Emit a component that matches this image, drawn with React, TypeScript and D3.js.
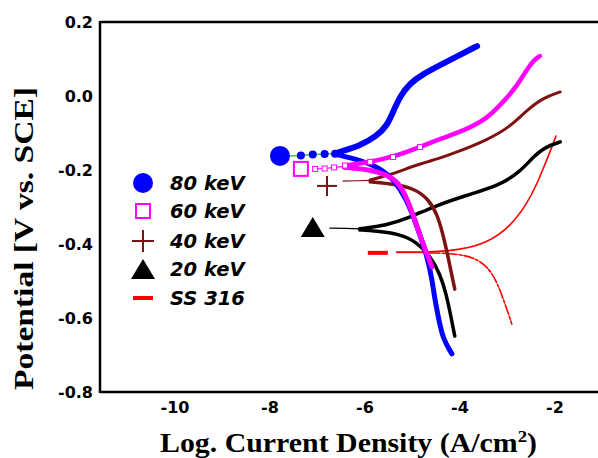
import React from "react";
import * as d3 from "d3";

type Pt = [number, number];

// log current density (x) vs potential (y)
const xTicks = [-10, -8, -6, -4, -2];
const yTicks = [0.2, 0.0, -0.2, -0.4, -0.6, -0.8];

const legendLabels = ["80 keV", "60 keV", "40 keV", "20 keV", "SS 316"];

// start markers for each curve
const markers80: Pt = [-7.79, -0.162];
const markers60: Pt = [-7.35, -0.197];
const markers40: Pt = [-6.8, -0.243];
const markers20: Pt = [-7.1, -0.354];
const markersSS: Pt = [-5.73, -0.424];

const lead80: Pt[] = [[-7.6, -0.162], [-7.35, -0.161], [-7.1, -0.158], [-6.85, -0.157], [-6.63, -0.156]];
const anodic80: Pt[] = [
  [-6.63, -0.156], [-6.53, -0.151], [-6.11, -0.135], [-5.75, -0.108], [-5.54, -0.081], [-5.41, -0.043],
  [-5.26, 0.0], [-5.05, 0.035], [-4.78, 0.059], [-4.42, 0.084], [-4.0, 0.111], [-3.64, 0.135],
];
const cathodic80: Pt[] = [
  [-6.63, -0.157], [-6.11, -0.173], [-5.68, -0.195], [-5.41, -0.224], [-5.12, -0.278], [-4.91, -0.351],
  [-4.69, -0.432], [-4.59, -0.495], [-4.53, -0.549], [-4.46, -0.595], [-4.36, -0.657], [-4.17, -0.697],
];

const lead60: Pt[] = [[-7.05, -0.197], [-6.85, -0.196], [-6.65, -0.193], [-6.42, -0.19]];
const anodic60: Pt[] = [
  [-6.42, -0.188], [-5.89, -0.178], [-5.41, -0.165], [-4.84, -0.138], [-4.42, -0.116], [-3.94, -0.095],
  [-3.43, -0.062], [-3.09, -0.016], [-2.8, 0.027], [-2.59, 0.073], [-2.42, 0.1], [-2.32, 0.108],
];
const cathodic60: Pt[] = [
  [-6.42, -0.193], [-5.83, -0.2], [-5.41, -0.219], [-5.2, -0.251], [-4.99, -0.319], [-4.82, -0.386],
  [-4.67, -0.435], [-4.59, -0.462],
];

const lead40: Pt[] = [[-6.46, -0.23], [-6.2, -0.229], [-5.89, -0.228]];
const anodic40: Pt[] = [
  [-5.89, -0.227], [-5.41, -0.211], [-4.99, -0.189], [-4.42, -0.168], [-4.11, -0.154], [-3.43, -0.119],
  [-2.95, -0.084], [-2.59, -0.038], [-2.25, -0.005], [-1.89, 0.011],
];
const cathodic40: Pt[] = [
  [-5.89, -0.232], [-5.37, -0.238], [-4.95, -0.251], [-4.67, -0.278], [-4.48, -0.319], [-4.36, -0.373],
  [-4.25, -0.435], [-4.17, -0.486], [-4.11, -0.522],
];

const lead20: Pt[] = [[-6.74, -0.357], [-6.4, -0.358], [-6.11, -0.359]];
const anodic20: Pt[] = [
  [-6.11, -0.359], [-5.54, -0.349], [-5.12, -0.332], [-4.53, -0.297], [-3.85, -0.268], [-3.16, -0.241],
  [-2.74, -0.205], [-2.46, -0.165], [-2.21, -0.138], [-1.89, -0.124],
];
const cathodic20: Pt[] = [
  [-6.11, -0.362], [-5.79, -0.365], [-5.26, -0.373], [-4.91, -0.395], [-4.63, -0.432], [-4.42, -0.481],
  [-4.29, -0.535], [-4.19, -0.597], [-4.11, -0.649],
];

const anodicSS: Pt[] = [
  [-5.33, -0.422], [-4.63, -0.422], [-4.0, -0.416], [-3.43, -0.397], [-2.95, -0.354], [-2.59, -0.292],
  [-2.36, -0.232], [-2.19, -0.178], [-2.08, -0.143], [-1.98, -0.108],
];
const cathodicSS: Pt[] = [
  [-4.63, -0.424], [-3.85, -0.427], [-3.43, -0.457], [-3.22, -0.503], [-3.09, -0.549], [-2.99, -0.584],
  [-2.91, -0.616],
];

const BLUE = "#0000ff";
const PINK = "#ff00ff";
const BROWN = "#7d1212";
const BLACK = "#000000";
const RED = "#ff0000";

const W = 598;
const H = 458;

export default function App() {
  const x = d3.scaleLinear().domain([-10, -2]).range([175, 555]);
  const y = d3.scaleLinear().domain([0.2, -0.8]).range([22, 392]);
  const line = d3
    .line<Pt>()
    .x((d) => x(d[0]))
    .y((d) => y(d[1]))
    .curve(d3.curveBasis);
  const straight = d3
    .line<Pt>()
    .x((d) => x(d[0]))
    .y((d) => y(d[1]));

  const left = x.range()[0] - 75; // plot frame left edge

  const legendY = [183, 211, 241, 269, 298];
  const lx = 143;

  return (
    <svg
      width={W}
      height={H}
      style={{ position: "absolute", left: 0, top: 0, background: "#fff" }}
    >
      {/* frame */}
      <g stroke="#000" strokeWidth={2.5} fill="none">
        <line x1={left} x2={W} y1={y(0.2)} y2={y(0.2)} />
        <line x1={left} x2={W} y1={y(-0.8)} y2={y(-0.8)} />
        <line x1={left} x2={left} y1={y(0.2) - 1} y2={y(-0.8) + 1} />
      </g>

      {/* tick labels */}
      <g fontFamily="DejaVu Sans" fontWeight="bold" fontSize={16}>
        {yTicks.map((t) => (
          <text key={t} x={left - 7} y={y(t)} dy="0.36em" textAnchor="end">
            {d3.format(".1f")(t).replace("−", "-")}
          </text>
        ))}
        {xTicks.map((t) => (
          <text key={t} x={x(t)} y={413} textAnchor="middle">
            {String(t)}
          </text>
        ))}
      </g>

      {/* axis titles */}
      <text
        x={160}
        y={452}
        fontFamily="Liberation Serif"
        fontWeight="bold"
        fontSize={27}
        textLength={377}
        lengthAdjust="spacingAndGlyphs"
      >
        Log. Current Density (A/cm
        <tspan dy={-10} fontSize={17}>2</tspan>
        <tspan dy={10}>)</tspan>
      </text>
      <text
        transform={`translate(33,390) rotate(-90)`}
        fontFamily="Liberation Serif"
        fontWeight="bold"
        fontSize={27}
        textLength={303}
        lengthAdjust="spacingAndGlyphs"
      >
        Potential [V vs. SCE]
      </text>

      {/* curves */}
      <g fill="none" strokeLinecap="round" strokeLinejoin="round">
        {/* SS 316 */}
        <path d={straight([[-5.33, -0.423], [-4.63, -0.423]]) ?? ""} stroke="#c04040" strokeWidth={1.5} />
        <path d={line(anodicSS) ?? ""} stroke={RED} strokeWidth={1.6} />
        <path d={line(cathodicSS) ?? ""} stroke={RED} strokeWidth={1.6} strokeDasharray="10 2 3 2" />

        {/* 20 keV */}
        <path d={straight(lead20) ?? ""} stroke={BLACK} strokeWidth={1.2} />
        <path d={line(anodic20) ?? ""} stroke={BLACK} strokeWidth={3.5} />
        <path d={line(cathodic20) ?? ""} stroke={BLACK} strokeWidth={3.5} />

        {/* 40 keV */}
        <path d={straight(lead40) ?? ""} stroke={BROWN} strokeWidth={1.2} />
        <path d={line(anodic40) ?? ""} stroke={BROWN} strokeWidth={3} />
        <path d={line(cathodic40) ?? ""} stroke={BROWN} strokeWidth={3.5} />

        {/* 80 keV */}
        <path d={straight(lead80) ?? ""} stroke="#33cc33" strokeWidth={1.5} />
        <path d={line(cathodic80) ?? ""} stroke={BLUE} strokeWidth={5} />
        <path d={line(anodic80) ?? ""} stroke={BLUE} strokeWidth={6} />

        {/* 60 keV */}
        <path d={straight(lead60) ?? ""} stroke={PINK} strokeWidth={1.2} />
        <path d={line(anodic60) ?? ""} stroke={PINK} strokeWidth={4.5} />
        <path d={line(cathodic60) ?? ""} stroke={PINK} strokeWidth={5} />
      </g>

      {/* small markers on leads */}
      {lead80.slice(1).map((d, i) => (
        <circle key={"b" + i} cx={x(d[0])} cy={y(d[1])} r={4} fill={BLUE} />
      ))}
      {lead60.concat(anodic60.filter((d) => d[0] < -4.8)).map((d, i) => (
        <rect
          key={"p" + i}
          x={x(d[0]) - 2.5}
          y={y(d[1]) - 2.5}
          width={5}
          height={5}
          fill="#fff"
          stroke={PINK}
          strokeWidth={1}
        />
      ))}

      {/* curve start markers */}
      <circle cx={x(markers80[0])} cy={y(markers80[1])} r={10} fill={BLUE} />
      <rect
        x={x(markers60[0]) - 7}
        y={y(markers60[1]) - 7}
        width={14}
        height={14}
        fill="#fff"
        stroke={PINK}
        strokeWidth={2}
      />
      <g stroke={BROWN} strokeWidth={2}>
        <line x1={x(markers40[0]) - 10} x2={x(markers40[0]) + 10} y1={y(markers40[1])} y2={y(markers40[1])} />
        <line x1={x(markers40[0])} x2={x(markers40[0])} y1={y(markers40[1]) - 10} y2={y(markers40[1]) + 10} />
      </g>
      <path
        d={`M${x(markers20[0])},${y(markers20[1]) - 10}l12,20h-24z`}
        fill={BLACK}
      />
      <line
        x1={x(markersSS[0]) - 10}
        x2={x(markersSS[0]) + 10}
        y1={y(markersSS[1])}
        y2={y(markersSS[1])}
        stroke={RED}
        strokeWidth={4}
      />

      {/* legend */}
      <circle cx={lx} cy={legendY[0]} r={10} fill={BLUE} />
      <rect x={lx - 7} y={legendY[1] - 7} width={14} height={14} fill="#fff" stroke={PINK} strokeWidth={2} />
      <g stroke={BROWN} strokeWidth={2}>
        <line x1={lx - 11} x2={lx + 11} y1={legendY[2]} y2={legendY[2]} />
        <line x1={lx} x2={lx} y1={legendY[2] - 11} y2={legendY[2] + 11} />
      </g>
      <path d={`M${lx},${legendY[3] - 10}l12,20h-24z`} fill={BLACK} />
      <line x1={lx - 10} x2={lx + 10} y1={legendY[4]} y2={legendY[4]} stroke={RED} strokeWidth={4} />
      <g fontFamily="DejaVu Sans" fontWeight="bold" fontStyle="italic" fontSize={19.5}>
        {legendLabels.map((l, i) => (
          <text key={l} x={170} y={legendY[i] + 7}>
            {l}
          </text>
        ))}
      </g>
    </svg>
  );
}
